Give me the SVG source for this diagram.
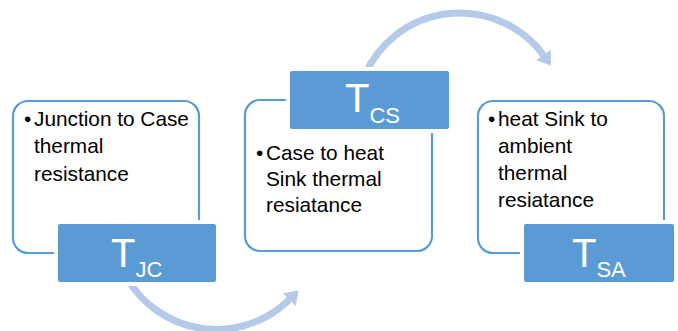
<svg xmlns="http://www.w3.org/2000/svg" width="678" height="331" viewBox="0 0 678 331">
<style>
.card{fill:#fff;stroke:#5B9BD5;stroke-width:2.2}
.tag{fill:#5B9BD5;stroke:#fff;stroke-width:4}
.body{font-family:"Liberation Sans",Arial,sans-serif;font-size:20.8px;fill:#000}
.lab{font-family:"Liberation Sans",Arial,sans-serif;font-size:40px;fill:#fff}
.sub{font-size:22px}
.arc{fill:none;stroke:#B4CAE8;stroke-width:7}
</style>
<defs>
<marker id="ah" markerUnits="userSpaceOnUse" markerWidth="14" markerHeight="18" refX="1" refY="9" orient="auto">
<path d="M0,0 L13,9 L0,18 z" fill="#B4CAE8"/>
</marker>
</defs>
<g id="connectors">
<path class="arc" d="M 365 74.7 A 104 104 0 0 1 544 55.7" marker-end="url(#ah)"/>
<path class="arc" d="M 128 280 A 104 104 0 0 0 290 299" marker-end="url(#ah)"/>
</g>
<g id="node-jc">
<rect class="card" x="13" y="101" width="186" height="152" rx="15"/>
<text class="body"><tspan x="24" y="126">•</tspan><tspan x="34" y="126">Junction to Case</tspan><tspan x="34" y="153">thermal</tspan><tspan x="34" y="181">resistance</tspan></text>
<rect class="tag" x="56" y="222" width="162" height="62" rx="4"/>
<text class="lab" x="111" y="267">T<tspan class="sub" dy="10">JC</tspan></text>
</g>
<g id="node-cs">
<rect class="card" x="245" y="100" width="187" height="151" rx="15"/>
<text class="body"><tspan x="256" y="160">•</tspan><tspan x="266" y="160">Case to heat</tspan><tspan x="266" y="186">Sink thermal</tspan><tspan x="266" y="212">resiatance</tspan></text>
<rect class="tag" x="288" y="69" width="163" height="62" rx="4"/>
<text class="lab" x="345" y="112">T<tspan class="sub" dy="11">CS</tspan></text>
</g>
<g id="node-sa">
<rect class="card" x="478" y="101" width="186" height="152" rx="15"/>
<text class="body"><tspan x="488" y="126">•</tspan><tspan x="498" y="126">heat Sink to</tspan><tspan x="498" y="153">ambient</tspan><tspan x="498" y="180">thermal</tspan><tspan x="498" y="207">resiatance</tspan></text>
<rect class="tag" x="522" y="222" width="154" height="62" rx="4"/>
<text class="lab" x="572" y="267">T<tspan class="sub" dy="10">SA</tspan></text>
</g>
</svg>
